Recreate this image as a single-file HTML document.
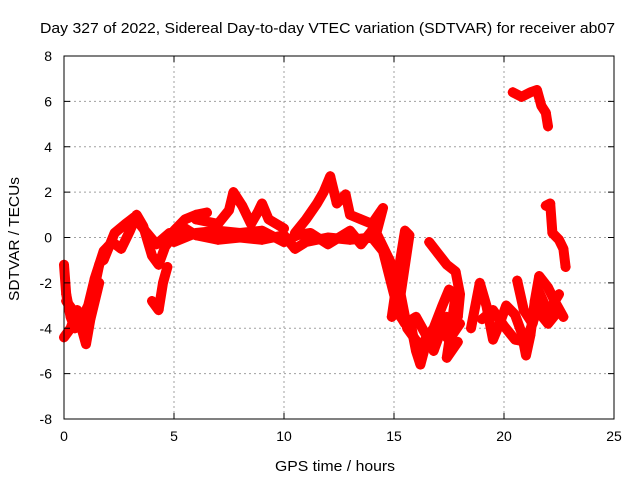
<!DOCTYPE html>
<html><head><meta charset="utf-8"><style>
body{margin:0;background:#fff}
svg{display:block;font-family:"Liberation Sans",sans-serif}
</style></head><body>
<svg id="chart" width="640" height="480" viewBox="0 0 640 480">
<rect width="640" height="480" fill="#fff"/>
<text x="40" y="33" font-size="15" textLength="575" lengthAdjust="spacingAndGlyphs">Day 327 of 2022, Sidereal Day-to-day VTEC variation (SDTVAR) for receiver ab07</text>
<text x="275" y="471" font-size="15" textLength="120" lengthAdjust="spacingAndGlyphs">GPS time / hours</text>
<text transform="translate(19,301) rotate(-90)" font-size="15" textLength="124" lengthAdjust="spacingAndGlyphs">SDTVAR / TECUs</text>
<g id="grid"></g><g id="series"></g><g id="axes"></g>
</svg>
<script>
const xTicks=[0,5,10,15,20,25];
const yTicks=[-8,-6,-4,-2,0,2,4,6,8];
const segMain=[[0,-1.2],[0.1,-2.5],[0.3,-3.5],[0.5,-4],[0.8,-3.6],[1.1,-3],[1.4,-1.8],[1.8,-0.6],[2.2,-0.2],[2.6,-0.5],[3,0.3],[3.3,1],[3.6,0.5],[4,-0.8],[4.3,-1.2],[4.6,-0.4],[5,0.1],[5.5,0.4],[6,0.1],[7,-0.1],[8,0],[9,-0.1],[10,0.1],[10.5,-0.5],[11,-0.2],[12,0],[13,-0.1],[14,0],[14.5,-0.6],[15,-2.5],[15.3,-3.5],[15.8,-4],[16,-5],[16.2,-5.6],[16.5,-4.5],[17,-4],[17.5,-4.5],[18,-3.8]];
const segMain2=[[5,-0.2],[6,0.2],[7,0.3],[8,0.2],[9,0.3],[10,-0.2],[10.6,0.1],[11.2,0.2],[12,-0.3],[13,0.3],[13.5,-0.3],[14,0.3]];
const segLow=[[0,-4.4],[0.3,-4],[0.6,-3.2],[0.8,-4],[1,-4.7],[1.2,-3.6],[1.6,-2]];
const segLow2=[[0.1,-2.8],[0.4,-3.2],[0.7,-3.8],[1,-3.4],[1.3,-2.6],[1.6,-1.2],[2,-0.4]];
const segLoop1=[[1.8,-1],[2.3,0.2],[2.8,0.6],[3.2,0.9],[3.6,0.4],[4.2,-0.3],[4.8,0.2]];
const segDip=[[4,-2.8],[4.3,-3.2],[4.5,-2],[4.7,-1.3]];
const segUpper=[[5,0.3],[5.5,0.8],[6,1],[6.5,1.1],[6,0.8],[7,0.6],[7.5,1.2],[7.7,2],[8.1,1.4],[8.5,0.6],[8.8,1.1],[9,1.5],[9.3,0.8],[10,0.4]];
const segHump=[[10.5,0.2],[11,0.8],[11.5,1.5],[11.8,2],[12.1,2.7],[12.4,1.5],[12.8,1.9],[13,1],[13.5,0.8],[14,0.6],[14.5,1.3],[14.2,0.2],[14.8,-1],[15.3,-2]];
const segB15=[[14.9,-3.5],[15.2,-1.5],[15.5,0.3],[15.7,0.1],[15.3,-2.5],[15.6,-4],[16.2,-4.8],[16.8,-4],[17.2,-3],[17.5,-2.3],[17.8,-2.5],[17.6,-4],[17.4,-5.3],[17.9,-4.6]];
const segB15b=[[15,-3],[15.5,-3.8],[16,-3.5],[16.4,-4.2],[16.8,-5],[17.1,-4.2],[17.4,-3.5],[17.7,-4.2]];
const segB17=[[16.6,-0.2],[17,-0.7],[17.4,-1.2],[17.8,-1.5],[18,-2.5],[17.9,-3.5]];
const segR=[[18.5,-4],[18.9,-2],[19.2,-3],[19.5,-4.5],[19.8,-3.8],[20.1,-3],[20.5,-3.4],[20.8,-4.2],[21,-5.2],[21.2,-4.3],[21.4,-2.8],[21.6,-1.7],[22,-2.2],[22.3,-2.8],[22.7,-3.5]];
const segR2=[[20.6,-1.9],[20.9,-3.2],[21.3,-3.8],[21.6,-2.4],[22,-3.3],[22.5,-2.5]];
const segR3=[[19,-3.6],[19.5,-3.2],[20,-3.9],[20.5,-4.5],[21,-4.6],[21.5,-3.2],[22,-3.8],[22.5,-3.2]];
const segTop=[[20.4,6.4],[20.8,6.2],[21.2,6.4],[21.5,6.5],[21.7,5.8],[21.9,5.5],[22,4.9]];
const segMid=[[21.9,1.4],[22.1,1.5],[22.2,0.2],[22.5,-0.1],[22.7,-0.5],[22.8,-1.3]];
const allSegs=[segMain,segMain2,segLow,segLow2,segLoop1,segDip,segUpper,segHump,segB15,segB15b,segB17,segR,segR2,segR3,segTop,segMid];
const X0=64,X1=614,Y0=419,Y1=56;
const xs=v=>X0+(v-0)/25*(X1-X0);
const ys=v=>Y0-(v+8)/16*(Y0-Y1);
const NS="http://www.w3.org/2000/svg";
const grid=document.getElementById('grid'),axes=document.getElementById('axes'),ser=document.getElementById('series');
function mk(tag,at,parent){const e=document.createElementNS(NS,tag);for(const k in at)e.setAttribute(k,at[k]);parent.appendChild(e);return e;}
xTicks.forEach(t=>{
 if(t>0&&t<25){const g=mk('line',{x1:xs(t),x2:xs(t),y1:Y1,y2:Y0,stroke:'#a0a0a0','stroke-dasharray':'2,3'},grid);
 
 }
 mk('line',{x1:xs(t),x2:xs(t),y1:Y0,y2:Y0-6,stroke:'#000'},axes);
 mk('line',{x1:xs(t),x2:xs(t),y1:Y1,y2:Y1+6,stroke:'#000'},axes);
 const tx=mk('text',{x:xs(t),y:Y0+22,'font-size':14,'text-anchor':'middle'},axes);tx.textContent=t;
 
 
});
yTicks.forEach(t=>{
 if(t>-8&&t<8){const g=mk('line',{x1:X0,x2:X1,y1:ys(t),y2:ys(t),stroke:'#a0a0a0','stroke-dasharray':'2,3'},grid);
 
 }
 mk('line',{x1:X0,x2:X0+6,y1:ys(t),y2:ys(t),stroke:'#000'},axes);
 mk('line',{x1:X1,x2:X1-6,y1:ys(t),y2:ys(t),stroke:'#000'},axes);
 const tx=mk('text',{x:X0-12,y:ys(t)+5,'font-size':14,'text-anchor':'end'},axes);tx.textContent=t;
 
 
});
const fr=mk('rect',{x:X0,y:Y1,width:X1-X0,height:Y0-Y1,fill:'none',stroke:'#000'},axes);


allSegs.forEach(seg=>{
 const p=mk('polyline',{points:seg.map(d=>xs(d[0])+','+ys(d[1])).join(' '),fill:'none',stroke:'#ff0000','stroke-width':10,'stroke-linejoin':'round','stroke-linecap':'round'},ser);
 
 
 seg.forEach(d=>{
  const m=mk('path',{d:`M${xs(d[0])-5},${ys(d[1])}h10M${xs(d[0])},${ys(d[1])-5}v10`,stroke:'#ff0000','stroke-width':1.5},ser);
  
  
 });
});
</script>
</body></html>
